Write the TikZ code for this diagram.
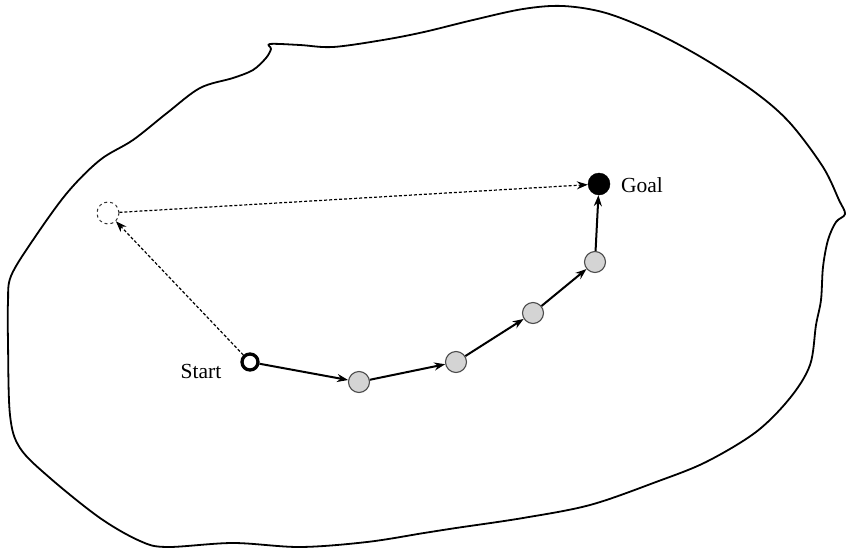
\documentclass[tikz,border=0pt]{standalone}
\usepackage{fontspec}
\setmainfont{Liberation Serif}
\usetikzlibrary{arrows.meta}
\begin{document}
\begin{tikzpicture}[x=1pt,y=-1pt,
  region/.style={line width=1.8pt,line join=round},
  visited/.style={circle,draw=black!70,line width=1.1pt,fill=black!17,minimum size=21pt,inner sep=0pt},
  startnode/.style={circle,draw,line width=3.3pt,minimum size=16pt,inner sep=0pt},
  goalnode/.style={circle,fill=black,draw=black,minimum size=22pt,inner sep=0pt},
  ghost/.style={circle,draw=black!80,dashed,line width=1pt,minimum size=22pt,inner sep=0pt},
  pathedge/.style={line width=2pt,-{Stealth[length=11pt,width=8pt]}},
  dashedge/.style={line width=1.2pt,dash pattern=on 3pt off 2pt,-{Stealth[length=11pt,width=8pt]}},
  lbl/.style={font=\fontsize{21.5}{25}\selectfont,inner sep=0pt}]
\useasboundingbox (0,0) rectangle (847,555);
\fill[white] (0,0) rectangle (847,555);
% region outline
\draw[region] plot[smooth cycle,tension=0.55] coordinates {
 (270,44) (300,45) (333,47) (383,40) (424,32) (473,20) (523,9) (563,6) (606,13)
 (656,33) (706,60) (756,93) (790,123) (823,167) (839,200) (845,214) (836,222)
 (828,240) (823,267) (821,300) (816,325) (810,365) (790,398) (756,432) (706,462)
 (656,482) (590,505) (523,518) (456,528) (424,533) (367,542) (300,547) (233,543)
 (167,547) (140,541) (100,518) (50,478) (20,448) (10,415) (8,342) (8,302) (11,276)
 (33,240) (67,193) (100,160) (133,140) (167,113) (200,88) (233,78) (253,70) (266,58) (271,49)};
% nodes
\node[startnode] (start) at (250,362) {};
\node[visited] (n1) at (359,382) {};
\node[visited] (n2) at (456,362) {};
\node[visited] (n3) at (533,313) {};
\node[visited] (n4) at (595,262) {};
\node[goalnode] (goal) at (599,184) {};
\node[ghost] (alt) at (108,213) {};
\node[lbl] (startlbl) at (201,371) {Start};
\node[lbl] (goallbl) at (642,185) {Goal};
% connectors
\draw[pathedge] (start) -- (n1);
\draw[pathedge] (n1) -- (n2);
\draw[pathedge] (n2) -- (n3);
\draw[pathedge] (n3) -- (n4);
\draw[pathedge] (n4) -- (goal);
\draw[dashedge] (start) -- (alt);
\draw[dashedge] (alt) -- (goal);
\end{tikzpicture}
\end{document}
